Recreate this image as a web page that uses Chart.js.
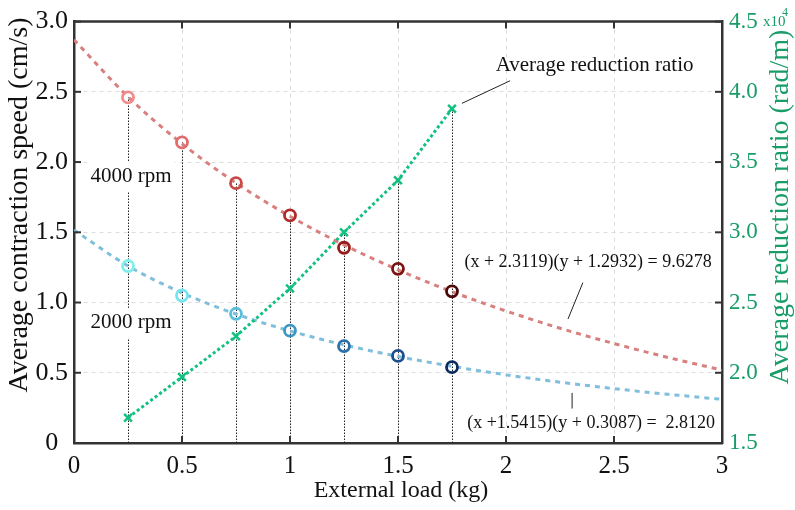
<!DOCTYPE html>
<html><head><meta charset="utf-8">
<script src="https://cdn.jsdelivr.net/npm/chart.js@4"></script>
<style>html,body{margin:0;padding:0;background:#fff;overflow:hidden}</style>
</head><body>
<canvas id="c" width="795" height="510" style="width:795px;height:510px;display:block"></canvas>
<script>
// ---- data ----
const loads = [0.25, 0.5, 0.75, 1.0, 1.25, 1.5, 1.75];
const speed4000 = [2.46, 2.14, 1.85, 1.62, 1.39, 1.24, 1.08];
const speed2000 = [1.26, 1.05, 0.92, 0.80, 0.69, 0.62, 0.54];
const reductionRatio = [1.68, 1.97, 2.26, 2.60, 3.00, 3.37, 3.88]; // x10^4 rad/m
const fitLoads = [0, 0.25, 0.5, 0.75, 1, 1.25, 1.5, 1.75, 2, 2.25, 2.5, 2.75, 3];
const fit4000 = [2.871, 2.465, 2.131, 1.851, 1.614, 1.410, 1.233, 1.077, 0.940, 0.817, 0.708, 0.609, 0.519];
const fit2000 = [1.516, 1.261, 1.069, 0.918, 0.798, 0.699, 0.616, 0.546, 0.485, 0.433, 0.387, 0.347, 0.311];
const xTicks = [0, 0.5, 1, 1.5, 2, 2.5, 3];
const xTickLabels = ['0', '0.5', '1', '1.5', '2', '2.5', '3'];
const leftTicks = [0, 0.5, 1, 1.5, 2, 2.5, 3];
const leftTickLabels = ['0', '0.5', '1.0', '1.5', '2.0', '2.5', '3.0'];
const rightTicks = [1.5, 2, 2.5, 3, 3.5, 4, 4.5];
const rightTickLabels = ['1.5', '2.0', '2.5', '3.0', '3.5', '4.0', '4.5'];
const xTitle = 'External load (kg)';
const leftTitle = 'Average contraction speed (cm/s)';
const rightTitle = 'Average reduction ratio (rad/m)';
const annotations = [
  {text: 'Average reduction ratio', x: 2.41, y: 2.685, size: 21, box: false},
  {text: '(x + 2.3119)(y + 1.2932) = 9.6278', x: 2.38, y: 1.29, size: 18, box: false},
  {text: '(x +1.5415)(y + 0.3087) =  2.8120', x: 2.394, y: 0.14, size: 18, box: false},
  {text: '4000 rpm', x: 0.264, y: 1.899, size: 21, box: true},
  {text: '2000 rpm', x: 0.264, y: 0.855, size: 21, box: true}
];
const leaders = [[1.796, 2.418, 2.019, 2.579], [2.356, 1.142, 2.287, 0.883], [2.306, 0.357, 2.306, 0.245]];

// ---- styles ----
const SERIF = "'Liberation Serif','Times New Roman',serif";
const GREEN = '#12c07f';
const GREEN_TXT = '#189c68';
const redColors = ['#f28b8b', '#e26b6b', '#c94848', '#b02a2a', '#981b1b', '#7d1212', '#4e0808'];
const blueColors = ['#7ef0ec', '#74e4f0', '#58bedb', '#3d96c4', '#2b71a9', '#1b4f8d', '#0b2c5e'];
const AXIS = '#333';

const toPts = (xs, ys) => xs.map((x, i) => ({x: x, y: ys[i]}));
const setTicks = (arr) => (s) => { s.ticks = arr.map(v => ({value: v})); };
const lab = (vals, labs) => (v) => { const i = vals.indexOf(v); return i >= 0 ? labs[i] : ''; };

const decor = {
  id: 'decor',
  beforeDatasetsDraw(chart) {
    const ctx = chart.ctx, xs = chart.scales.x, yL = chart.scales.y, yR = chart.scales.y2;
    const bottom = chart.chartArea.bottom;
    ctx.save();
    ctx.strokeStyle = '#222';
    ctx.lineWidth = 1;
    ctx.setLineDash([1.5, 1.5]);
    loads.forEach((l, i) => {
      const px = Math.round(xs.getPixelForValue(l)) + 0.5;
      const top = Math.min(yL.getPixelForValue(speed4000[i]), yR.getPixelForValue(reductionRatio[i]));
      ctx.beginPath(); ctx.moveTo(px, bottom); ctx.lineTo(px, top); ctx.stroke();
    });
    ctx.restore();
  },
  afterDatasetsDraw(chart) {
    const ctx = chart.ctx, a = chart.chartArea, xs = chart.scales.x, yL = chart.scales.y, yR = chart.scales.y2;
    ctx.save();
    // frame top
    ctx.strokeStyle = AXIS; ctx.lineWidth = 2.5; ctx.setLineDash([]);
    ctx.beginPath(); ctx.moveTo(a.left, a.top); ctx.lineTo(a.right, a.top); ctx.stroke();
    // inward ticks
    ctx.lineWidth = 2;
    const TL = 7;
    xTicks.forEach(v => {
      const p = xs.getPixelForValue(v);
      ctx.beginPath(); ctx.moveTo(p, a.bottom); ctx.lineTo(p, a.bottom - TL); ctx.stroke();
      ctx.beginPath(); ctx.moveTo(p, a.top); ctx.lineTo(p, a.top + TL); ctx.stroke();
    });
    leftTicks.forEach(v => {
      const p = yL.getPixelForValue(v);
      ctx.beginPath(); ctx.moveTo(a.left, p); ctx.lineTo(a.left + TL, p); ctx.stroke();
    });
    rightTicks.forEach(v => {
      const p = yR.getPixelForValue(v);
      ctx.beginPath(); ctx.moveTo(a.right, p); ctx.lineTo(a.right - TL, p); ctx.stroke();
    });
    // leader lines
    ctx.strokeStyle = '#222'; ctx.lineWidth = 1;
    leaders.forEach(L => {
      ctx.beginPath();
      ctx.moveTo(xs.getPixelForValue(L[0]), yL.getPixelForValue(L[1]));
      ctx.lineTo(xs.getPixelForValue(L[2]), yL.getPixelForValue(L[3]));
      ctx.stroke();
    });
    // annotations
    ctx.textAlign = 'center'; ctx.textBaseline = 'middle';
    annotations.forEach(t => {
      ctx.font = t.size + 'px ' + SERIF;
      const px = xs.getPixelForValue(t.x), py = yL.getPixelForValue(t.y);
      if (t.box) {
        const w = ctx.measureText(t.text).width + 6;
        ctx.fillStyle = '#fff';
        ctx.fillRect(px - w / 2, py - 15, w, 30);
      }
      ctx.fillStyle = '#111';
      ctx.fillText(t.text, px, py);
    });
    // axis titles
    ctx.fillStyle = '#111';
    ctx.font = '24px ' + SERIF;
    ctx.fillText(xTitle, (a.left + a.right) / 2 + 3, 491);
    ctx.save();
    ctx.translate(20, 205); ctx.rotate(-Math.PI / 2);
    ctx.font = '28px ' + SERIF;
    ctx.fillText(leftTitle, 0, 0);
    ctx.restore();
    ctx.save();
    ctx.translate(781, 207); ctx.rotate(-Math.PI / 2);
    ctx.font = '28px ' + SERIF; ctx.fillStyle = GREEN_TXT;
    ctx.fillText(rightTitle, 0, 0);
    ctx.restore();
    // x10^4
    ctx.fillStyle = GREEN_TXT; ctx.textAlign = 'left'; ctx.textBaseline = 'alphabetic';
    ctx.font = '15px ' + SERIF;
    ctx.fillText('x10', 763, 26);
    ctx.font = '12px ' + SERIF;
    ctx.fillText('4', 782, 16);
    ctx.restore();
  }
};

new Chart(document.getElementById('c'), {
  type: 'line',
  data: {
    datasets: [
      {label: '4000 rpm', data: toPts(loads, speed4000), yAxisID: 'y', showLine: false,
       pointStyle: 'circle', pointRadius: 5.5, pointBorderWidth: 2.8,
       pointBorderColor: redColors, pointBackgroundColor: 'rgba(0,0,0,0)', order: 1},
      {label: '2000 rpm', data: toPts(loads, speed2000), yAxisID: 'y', showLine: false,
       pointStyle: 'circle', pointRadius: 5.5, pointBorderWidth: 2.8,
       pointBorderColor: blueColors, pointBackgroundColor: 'rgba(0,0,0,0)', order: 2},
      {label: 'Average reduction ratio', data: toPts(loads, reductionRatio), yAxisID: 'y2',
       borderColor: GREEN, borderWidth: 3, borderDash: [3, 2.6], tension: 0,
       pointStyle: 'crossRot', pointRadius: 5.5, pointBorderWidth: 2.5,
       pointBorderColor: GREEN, pointBackgroundColor: GREEN, order: 3},
      {label: 'fit 4000', data: toPts(fitLoads, fit4000), yAxisID: 'y',
       borderColor: '#d8807f', borderWidth: 3, borderDash: [5, 5], pointRadius: 0,
       tension: 0.4, cubicInterpolationMode: 'monotone', order: 4},
      {label: 'fit 2000', data: toPts(fitLoads, fit2000), yAxisID: 'y',
       borderColor: '#7fbedc', borderWidth: 3, borderDash: [5, 5], pointRadius: 0,
       tension: 0.4, cubicInterpolationMode: 'monotone', order: 5}
    ]
  },
  options: {
    responsive: false, animation: false, devicePixelRatio: 1,
    layout: {padding: {top: 15, left: 0, right: 0, bottom: 0}},
    plugins: {legend: {display: false}, tooltip: {enabled: false}, title: {display: false}},
    scales: {
      x: {
        type: 'linear', min: 0, max: 3, position: 'bottom',
        afterBuildTicks: setTicks(xTicks),
        afterFit: s => { s.height = 67; },
        ticks: {callback: lab(xTicks, xTickLabels), font: {family: SERIF, size: 25}, color: '#111', padding: 8, maxRotation: 0},
        grid: {color: '#dcdcdc', lineWidth: 1, drawTicks: false},
        border: {color: AXIS, width: 2.5, dash: [4, 4]}
      },
      y: {
        type: 'linear', min: 0, max: 3, position: 'left',
        afterBuildTicks: setTicks(leftTicks),
        afterFit: s => { s.width = 74; },
        ticks: {callback: lab(leftTicks, leftTickLabels), font: {family: SERIF, size: 26}, color: '#111', padding: 6, crossAlign: 'center'},
        grid: {color: '#dcdcdc', lineWidth: 1, drawTicks: false},
        border: {color: AXIS, width: 2.5, dash: [4, 4]}
      },
      y2: {
        type: 'linear', min: 1.5, max: 4.5, position: 'right',
        afterBuildTicks: setTicks(rightTicks),
        afterFit: s => { s.width = 73; },
        ticks: {callback: lab(rightTicks, rightTickLabels), font: {family: SERIF, size: 23}, color: GREEN_TXT, padding: 7},
        grid: {display: false, drawTicks: false},
        border: {color: AXIS, width: 2.5}
      }
    }
  },
  plugins: [decor]
});
</script>
</body></html>
